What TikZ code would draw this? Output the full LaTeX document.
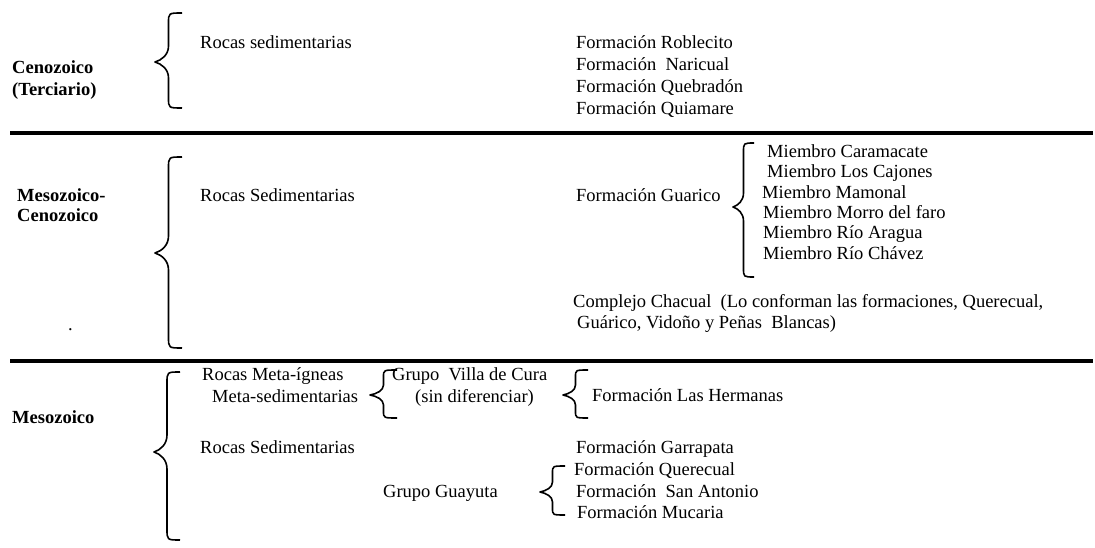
\documentclass[tikz,border=0pt]{standalone}
\usepackage{fontspec}
\setmainfont{Liberation Serif}
\tikzset{
  txt/.style={anchor=base west,inner sep=0pt,font=\fontsize{18.5}{22}\selectfont},
  era/.style={txt,font=\fontsize{18.5}{22}\selectfont\bfseries},
  llavelinea/.style={line width=1.6pt,line join=round},
  corte/.style={line width=4pt},
}
% #1 x de los ganchos, #2 y arriba, #3 y abajo, #4 y de la punta,
% #5 ancho, #6 radio de los ganchos, #7 largo de la punta
\newcommand\llave[7]{%
  \draw[llavelinea] (#1,#2) .. controls ({#1-#5/2},#2) .. ({#1-#5/2},{#2+#6})
    -- ({#1-#5/2},{#4-#7})
    .. controls ({#1-#5/2},{#4-0.45*#7}) and ({#1-0.75*#5},{#4-0.12*#7}) .. ({#1-#5},#4)
    .. controls ({#1-0.75*#5},{#4+0.12*#7}) and ({#1-#5/2},{#4+0.45*#7}) .. ({#1-#5/2},{#4+#7})
    -- ({#1-#5/2},{#3-#6}) .. controls ({#1-#5/2},#3) .. (#1,#3);}
\begin{document}
\begin{tikzpicture}[x=1pt,y=-1pt]
\useasboundingbox (0,0) rectangle (1095,548);
% Cenozoico
\node[era] (ceno) at (12,74) {Cenozoico};
\node[era] (terc) at (12,96) {(Terciario)};
\llave{182}{13}{108}{62}{27}{10}{16}
\node[txt] (rsed1) at (200,49) {Rocas sedimentarias};
\node[txt] (robl) at (576,49) {Formación Roblecito};
\node[txt] (nari) at (576,71) {Formación~ Naricual};
\node[txt] (queb) at (576,93) {Formación Quebradón};
\node[txt] (quia) at (576,115) {Formación Quiamare};
\draw[corte] (10,133) -- (1093,133);
% Mesozoico-Cenozoico
\node[era] (meso1) at (17,202) {Mesozoico-};
\node[era] (ceno2) at (17,222) {Cenozoico};
\node[txt] (punto) at (68,330) {.};
\llave{182}{157}{348}{253}{27}{11}{17}
\node[txt] (rsed2) at (200,202) {Rocas Sedimentarias};
\node[txt] (guar) at (576,202) {Formación Guarico};
\llave{754}{143}{277}{207}{21}{9}{14}
\node[txt] (cara) at (767,158) {Miembro Caramacate};
\node[txt] (cajo) at (767,178) {Miembro Los Cajones};
\node[txt] (mamo) at (762,199) {Miembro Mamonal};
\node[txt] (morr) at (763,219) {Miembro Morro del faro};
\node[txt] (arag) at (763,239) {Miembro Río Aragua};
\node[txt] (chav) at (763,259) {Miembro Río Chávez};
\node[txt] (chac) at (573,307) {Complejo Chacual~ (Lo conforman las formaciones, Querecual,};
\node[txt] (chac2) at (577,328) {Guárico, Vidoño y Peñas~ Blancas)};
\draw[corte] (10,361) -- (1093,361);
% Mesozoico
\node[era] (meso2) at (12,423) {Mesozoico};
\llave{180}{372}{540}{452}{26}{11}{17}
\node[txt] (meig) at (202,380) {Rocas Meta-ígneas};
\node[txt] (msed) at (212,402) {Meta-sedimentarias};
\llave{397}{370}{418}{395}{27}{7}{10}
\node[txt] (vcur) at (392,380) {Grupo~ Villa de Cura};
\node[txt] (sdif) at (415,402) {(sin diferenciar)};
\llave{588}{370}{418}{395}{25}{7}{10}
\node[txt] (herm) at (592,401) {Formación Las Hermanas};
\node[txt] (rsed3) at (200,453) {Rocas Sedimentarias};
\node[txt] (garr) at (576,453) {Formación Garrapata};
\node[txt] (guay) at (383,497) {Grupo Guayuta};
\llave{565}{466}{515}{492}{25}{7}{10}
\node[txt] (quer) at (574,475) {Formación Querecual};
\node[txt] (sant) at (576,497) {Formación~ San Antonio};
\node[txt] (muca) at (577,518) {Formación Mucaria};
\end{tikzpicture}
\end{document}
